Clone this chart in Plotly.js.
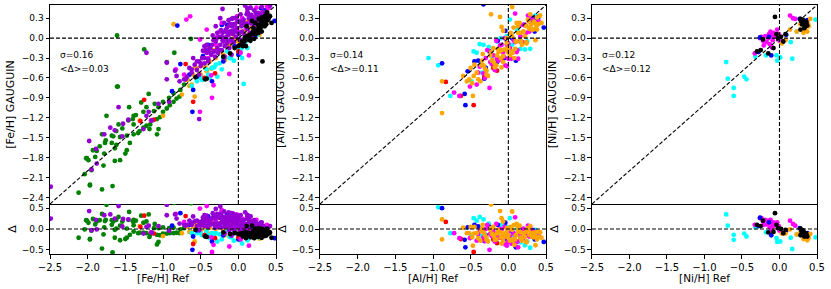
<!DOCTYPE html>
<html><head><meta charset="utf-8">
<script src="https://cdn.plot.ly/plotly-3.0.1.min.js"></script>
<style>html,body{margin:0;padding:0;background:#fff}#chart{width:831px;height:289px}</style>
</head><body><div id="chart"></div>
<script>
// ---------- [Fe/H] ----------
const fe_green_ref = [-1.61,-1.25,-1.61,-0.63,-0.85,-0.95,-1.60,-1.19,-1.29,-1.45,-1.75,-1.36,-1.40,-1.59,-1.66,-1.81,-1.77,-1.84,-1.88,-1.93,-2.01,-1.99,-1.79,-1.64,-1.57,-1.50,-1.48,-1.44,-1.64,-1.68,-1.62,-1.57,-1.48,-1.39,-1.33,-1.31,-1.26,-1.22,-1.17,-1.15,-1.08,-1.04,-1.00,-0.95,-0.91,-0.86,-0.82,-1.00,-1.11,-1.06,-1.22,-1.26,-1.39,-1.46,-1.54,-1.62,-1.68,-1.76,-1.78,-1.90,-2.04,-1.95,-1.97,-1.18,-1.08,-1.06,-1.39,-2.12,-1.97,-1.81,-1.67,-2.02,-0.77,-0.86,-0.72,-0.68,-0.78,-0.92,-1.12];
const fe_green_gau = [0.04,-0.17,-0.73,-0.01,-0.22,-0.36,-0.73,-0.84,-0.97,-1.04,-1.17,-1.16,-1.22,-1.30,-1.48,-1.45,-1.58,-1.63,-1.70,-1.69,-1.81,-1.84,-1.92,-1.85,-1.84,-1.74,-1.69,-1.58,-1.66,-1.58,-1.61,-1.49,-1.47,-1.45,-1.43,-1.40,-1.35,-1.32,-1.30,-1.24,-1.22,-1.19,-1.11,-1.06,-1.01,-0.96,-0.91,-0.96,-0.99,-1.04,-1.04,-1.11,-1.17,-1.24,-1.36,-1.40,-1.47,-1.54,-1.74,-1.79,-2.05,-1.99,-2.21,-1.37,-1.45,-1.37,-1.30,-2.33,-2.22,-2.28,-2.23,-1.81,-0.78,-0.83,-0.70,-0.62,-0.88,-0.90,-1.10];

const fe_purple_ref = [-1.98,-1.88,-1.95,-2.49,-1.78,-1.54,-1.64,-1.15,-1.59,-1.70,-1.89,-1.53,-1.46,-1.22,-1.19,-1.06,-0.95,-0.82,-0.84,-0.92,-1.26,-1.22,-0.95,-0.52,
  -0.21,-0.24,-0.30,-0.15,-0.11,-0.09,0.11,0.42,
  -0.68,-0.62,-0.58,-0.55,-0.52,-0.50,-0.48,-0.45,-0.42,-0.40,-0.38,-0.36,-0.35,-0.33,-0.31,-0.30,-0.28,-0.27,-0.25,-0.24,-0.22,-0.21,-0.20,-0.18,-0.17,-0.16,-0.15,-0.13,-0.12,-0.11,-0.10,-0.08,-0.07,-0.06,-0.05,-0.04,-0.03,-0.02,0.00,0.01,0.02,0.04,0.05,0.07,0.08,0.10,0.12,0.14,0.15,0.17,0.19,0.20,0.22,0.25,0.27,0.30,0.33,0.36,-0.45,-0.60,-0.65,-0.72,-0.78,-0.52,0.03,-0.09,-0.19,0.12,
  -0.45,-0.42,-0.40,-0.37,-0.34,-0.32,-0.29,-0.26,-0.23,-0.21,-0.19,-0.16,-0.14,-0.12,-0.09,-0.07,-0.04,-0.01,0.01,0.03,0.06,0.09,0.11,0.13,0.16,0.18,0.21,0.23,0.26,0.29,-0.43,-0.39,-0.33,-0.28,-0.22,-0.17,-0.13,-0.08,-0.03,0.02,0.07,0.12,0.17,0.24,0.31,-0.55,-0.50,-0.47,-0.62,-0.70];
const fe_purple_gau = [-1.55,-1.89,-1.98,-2.24,-1.45,-1.48,-1.39,-1.24,-1.04,-1.35,-1.67,-1.29,-1.23,-1.17,-1.11,-0.99,-0.62,-0.57,-0.49,-0.96,-1.37,-0.22,-0.37,-1.22,
  0.44,0.30,0.18,0.16,0.21,0.29,0.36,0.49,
  -0.58,-0.52,-0.40,-0.48,-0.35,-0.42,-0.30,-0.38,-0.22,-0.32,-0.15,-0.25,-0.10,-0.20,-0.28,-0.05,-0.15,-0.22,0.02,-0.10,-0.18,0.08,-0.05,-0.12,0.12,0.02,-0.08,0.05,-0.15,0.10,-0.02,0.18,0.06,-0.06,0.12,0.22,0.02,0.15,0.08,0.25,-0.02,0.18,0.10,0.28,0.05,0.20,0.14,0.30,0.08,0.22,0.32,0.16,0.27,0.35,0.22,0.33,0.40,0.30,-0.12,-0.30,-0.45,-0.62,-0.65,-0.55,-0.10,-0.25,-0.30,0.45,
  -0.30,-0.10,-0.35,-0.15,0.04,-0.20,-0.01,-0.18,0.12,-0.03,0.23,0.09,-0.04,0.19,0.11,0.30,0.10,0.26,0.07,0.36,0.25,0.49,0.22,0.37,0.46,0.27,0.42,0.38,0.38,0.36,-0.17,-0.21,-0.03,0.08,0.02,-0.01,0.27,0.21,0.30,0.24,0.20,0.40,0.35,0.29,0.47,-0.35,-0.38,-0.19,-0.47,-0.62];

const fe_magenta_ref = [-0.69,-0.64,-0.12,0.16,0.24,-0.30,-0.20,-0.15,-0.05,0.00,0.05,0.10,0.15,0.20,0.25,0.30,0.35,0.40,-0.25,-0.40,-0.45,0.08,-0.10,0.18,0.28,-0.35,-1.16,-0.83,-0.72,-0.51,-0.51,
  -0.42,-0.36,-0.28,-0.22,-0.18,-0.08,-0.02,0.03,0.12,0.22,0.32,0.38,-0.33,0.14];
const fe_magenta_gau = [0.28,0.33,-0.54,0.46,0.46,-0.10,0.00,0.10,0.20,0.10,0.30,0.15,0.25,0.30,0.20,0.38,0.30,0.45,0.10,-0.30,-0.20,-0.05,-0.05,0.05,0.10,-0.90,-1.24,-0.47,-0.55,-1.11,-0.02,
  0.13,-0.56,0.02,0.23,-0.28,-0.03,0.33,-0.22,0.45,0.32,0.27,0.48,-0.71,-0.26];

const fe_orange_ref = [-0.86,-1.31,-1.00,-0.58,-0.60,-0.55,-0.50,-0.45,-0.42,-0.38,-0.30,-0.25,-0.20,-0.15,-0.10,-0.05,0.00,0.05,0.10,0.15,0.20,0.25,0.30,0.35,0.38,0.12,-0.02,0.22,-0.35,-0.48,-0.70,-0.65,-0.75,0.28,-0.12,
  -0.68,-0.62,-0.57,-0.52,-0.44,-0.36,-0.27,-0.18,-0.08,0.02,0.08,0.18,0.27,0.33,-0.33];
const fe_orange_gau = [0.21,-1.24,-1.17,-0.88,-0.55,-0.45,-0.55,-0.40,-0.50,-0.35,-0.30,-0.20,-0.25,-0.12,-0.10,0.00,-0.05,0.10,0.05,0.15,0.10,0.20,0.25,0.20,0.35,0.25,0.15,0.28,-0.45,-0.30,-0.62,-0.72,-0.85,0.05,0.05,
  -0.63,-0.70,-0.45,-0.54,-0.44,-0.46,-0.19,-0.33,-0.03,-0.10,0.10,0.00,0.22,0.19,-0.18];

const fe_cyan_ref = [0.07,-0.45,-0.40,-0.50,-0.35,-0.30,-0.20,-0.10,0.00,0.02,0.10,0.12,0.20,-0.15,-0.55,-0.25,0.25,0.05,-0.62,0.30,
  -0.48,-0.38,-0.32,-0.22,-0.12,-0.06,0.04,0.15,-0.42,-0.28,0.08];
const fe_cyan_gau = [-0.69,-0.60,-0.55,-0.60,-0.45,-0.40,-0.30,-0.30,-0.15,-0.25,-0.05,-0.15,0.00,-0.20,-0.65,-0.38,0.05,-0.30,-0.72,0.15,
  -0.63,-0.60,-0.44,-0.47,-0.30,-0.34,-0.16,0.05,-0.47,-0.58,-0.07];

const fe_blue_ref = [-0.81,0.48,-0.61,-0.77,0.30,0.35,0.25,-0.20,-0.40,-0.60,0.10,0.05,-0.10,0.40,0.20,-0.55,-0.88,0.15,-0.22,-0.05,
  -0.47,-0.35,-0.15,0.22,0.33,-0.65,0.00];
const fe_blue_gau = [0.19,0.26,-1.11,-0.39,0.45,0.42,0.35,-0.35,-0.10,-0.78,0.20,-0.10,0.20,0.30,0.22,-0.58,-0.80,0.00,0.20,-0.12,
  -0.27,-0.65,0.20,0.02,0.38,-0.55,-0.25];

const fe_red_ref = [-0.70,-0.31,-1.25,-1.12,-0.60,-0.45,0.00,-1.30];
const fe_red_gau = [-0.39,-0.53,-0.93,-1.23,-0.96,-0.60,-0.20,-1.25];

const fe_black_ref = [0.32,0.05,0.10,0.15,0.20,0.25,0.30,0.35,0.22,0.28,0.32,0.38,0.12,0.18,0.27,0.33,0.40,0.00,-0.05,0.08,0.24,0.30,0.36,0.20,0.15,0.42,-0.20,-0.42,-0.44,-0.11,-0.57,0.11,0.18,0.22,0.27,0.31,0.36,0.38,0.44,0.34,0.26,0.29,0.35,
  0.02,0.06,0.09,0.13,0.16,0.19,0.23,0.26,0.29,0.31,0.34,0.37,0.39,0.41,0.21,0.27,0.33,0.36,0.10,0.25];
const fe_black_gau = [-0.35,-0.05,0.00,0.05,0.08,0.13,0.18,0.25,0.12,0.20,0.22,0.28,0.03,0.06,0.15,0.20,0.30,-0.12,-0.15,-0.05,0.10,0.26,0.30,0.15,0.02,0.33,-0.28,-0.61,-0.62,-0.23,-0.59,0.18,0.26,0.23,0.29,0.31,0.34,0.39,0.23,0.32,0.08,0.12,0.18,
  -0.10,-0.12,0.01,-0.02,-0.04,0.09,0.06,0.20,0.15,0.10,0.25,0.21,0.27,0.34,-0.01,0.08,0.22,0.32,-0.12,0.12];

// ---------- [Al/H] ----------
const al_orange_ref = [0.05,-0.23,-0.11,-0.88,-0.47,-0.88,-0.09,-0.07,0.07,0.11,0.29,0.38,0.42,0.24,0.16,0.05,-0.02,-0.09,-0.15,-0.22,-0.33,-0.42,-0.46,-0.55,-0.37,-0.29,-0.18,-0.07,0.02,0.09,0.16,0.22,0.33,0.40,0.36,0.18,-0.13,-0.24,-0.35,-0.02,0.13,0.44,0.24,-0.60,-0.50,0.00,0.10,0.20,0.30,-0.20,-0.10,0.05,0.26,0.34,
  -0.52,-0.45,-0.40,-0.36,-0.31,-0.27,-0.23,-0.19,-0.16,-0.12,-0.09,-0.05,-0.01,0.03,0.06,0.10,0.13,0.17,0.20,0.24,0.27,0.31,0.35,0.38,0.42,-0.48,-0.34,-0.21,-0.07,0.08,0.15,0.28,0.37,-0.29,-0.14];
const al_orange_gau = [0.47,0.36,0.32,-0.65,-0.87,-1.13,0.17,0.11,0.16,0.23,0.36,0.31,0.34,0.18,0.08,0.03,-0.08,-0.18,-0.26,-0.34,-0.41,-0.52,-0.57,-0.65,-0.65,-0.49,-0.44,-0.36,-0.26,-0.16,-0.05,0.03,0.13,0.21,-0.03,-0.10,-0.21,-0.26,-0.34,0.00,0.18,0.23,-0.08,-0.57,-0.45,-0.15,-0.05,0.10,0.20,-0.15,-0.30,-0.20,0.28,0.25,
  -0.62,-0.40,-0.62,-0.41,-0.46,-0.57,-0.21,-0.37,-0.41,-0.20,-0.44,-0.17,-0.21,0.08,-0.22,-0.05,0.08,-0.05,0.10,-0.06,0.25,0.13,0.23,0.13,0.34,-0.68,-0.24,-0.33,-0.27,-0.30,0.23,0.14,0.17,-0.55,-0.16];

const al_magenta_ref = [0.09,0.29,-0.02,-0.07,-0.15,-0.22,-0.25,-0.31,-0.40,0.13,0.11,0.02,-0.09,-0.20,-0.13,-0.04,-0.51,-0.65,0.40,0.16,0.24,0.07,0.00,0.32,-0.05,0.20,-0.30,-0.72,
  -0.38,-0.33,-0.28,-0.24,-0.18,-0.11,-0.06,0.00,0.04,0.09,0.14,0.19,0.22,0.28,0.34,-0.16,-0.02,0.12,0.26,-0.42];
const al_magenta_gau = [0.37,0.34,-0.10,-0.21,-0.31,-0.39,-0.75,-0.60,-0.52,-0.31,-0.21,-0.15,-0.10,-0.26,-0.34,-0.41,-0.73,-0.87,0.26,0.03,0.08,-0.03,-0.31,0.28,0.00,0.20,-0.30,-0.82,
  -0.43,-0.53,-0.18,-0.36,-0.48,-0.11,-0.28,-0.08,-0.31,-0.06,0.19,-0.06,0.20,0.10,0.24,-0.04,-0.42,-0.18,0.34,-0.70];

const al_cyan_ref = [-1.06,-0.93,-0.77,-0.38,-0.33,-0.26,-0.46,-0.49,0.16,0.22,0.29,-0.31,-0.35,-0.02,0.36,-0.15,0.02,
  -0.22,-0.10,0.05,0.25,0.33,-0.42,0.12];
const al_cyan_gau = [-0.30,-0.41,-0.87,-0.09,-0.10,-0.13,-0.20,-0.65,-0.16,-0.17,-0.16,-0.44,-0.52,0.03,0.34,-0.05,0.28,
  -0.27,0.00,-0.10,-0.05,0.13,-0.22,0.12];

const al_blue_ref = [-0.88,-0.58,-0.57,-0.33,-0.04,-0.14,0.29,0.33,0.40,-0.54,-0.40,-0.32,-0.15,0.16,0.10,0.47,0.05,-0.25,0.35,
  -0.30,-0.05,0.20,0.38,-0.45];
const al_blue_gau = [-0.38,-0.84,-1.01,0.51,0.11,-0.04,0.27,0.30,0.32,-0.50,-0.34,-0.61,-0.36,-0.05,-0.34,0.16,0.00,-0.20,0.10,
  -0.45,-0.30,0.20,0.28,-0.35];

const al_red_ref = [-0.83,-0.63,-0.46,-0.15,-0.32,-0.20,-0.08];
const al_red_gau = [-0.66,-0.87,-1.01,-0.49,-0.58,-0.45,-0.30];

// ---------- [Ni/H] ----------
const ni_cyan_ref = [-0.71,-0.69,-0.61,-0.61,-0.47,-0.44,-0.32,-0.04,-0.03,0.01,0.17,0.15,0.23,0.48,-0.18];
const ni_cyan_gau = [-0.36,-0.61,-0.75,-0.87,-0.58,-0.62,-0.28,-0.26,-0.34,-0.29,-0.31,-0.06,0.10,0.28,-0.26];

const ni_magenta_ref = [0.14,0.18,-0.03,-0.01,-0.12,-0.26,-0.22,-0.19,-0.17,-0.15,-0.11,-0.09,-0.06,-0.21,-0.33,0.00,0.21,-0.13,-0.10,-0.24,-0.08,-0.14];
const ni_magenta_gau = [0.34,0.30,0.13,0.06,0.10,0.00,-0.04,0.03,-0.06,0.00,0.04,-0.03,0.03,-0.11,-0.23,-0.04,0.29,-0.09,-0.14,0.02,0.08,0.06];

const ni_blue_ref = [-0.14,-0.26,-0.28,-0.11,0.05,0.09,0.27,0.37];
const ni_blue_gau = [0.02,0.01,-0.21,-0.26,-0.05,0.05,0.29,0.27];

const ni_orange_ref = [0.14,0.03,0.08,0.23,0.37,0.39,0.41,0.28,0.32,0.35,0.38,0.33];
const ni_orange_gau = [0.13,-0.08,-0.03,0.10,0.10,0.18,0.29,0.21,0.08,0.12,0.22,0.14];

const ni_black_ref = [-0.06,-0.30,-0.25,-0.22,-0.15,-0.08,-0.04,-0.02,0.02,0.05,0.08,0.28,0.32,0.34,0.28,0.36,0.30,0.33,0.35,0.31,0.29,0.37];
const ni_black_gau = [0.32,-0.20,-0.18,-0.02,-0.23,-0.15,0.06,0.00,0.02,-0.05,0.06,0.29,0.26,0.18,0.13,0.23,0.21,0.15,0.25,0.28,0.25,0.19];

// ---------- labels / stats ----------
const panel_elements = ['Fe','Al','Ni'];
const panel_sigma = ['0.16','0.14','0.12'];
const panel_mean_delta = ['0.03','0.11','0.12'];
const main_ytick_vals = [-2.4,-2.1,-1.8,-1.5,-1.2,-0.9,-0.6,-0.3,0.0,0.3];
const resid_ytick_vals = [-0.5,0.0,0.5];
const x_tick_vals = [-2.5,-2.0,-1.5,-1.0,-0.5,0.0,0.5];

// ---------- styles ----------
const COLORS = {green:'#008000', orange:'#FFA500', cyan:'#00FFFF', blue:'#0000FF', red:'#FF0000', purple:'#9400D3', magenta:'#FF00FF', black:'#000000'};

const panels = [
  [['green',fe_green_ref,fe_green_gau],['orange',fe_orange_ref,fe_orange_gau],['cyan',fe_cyan_ref,fe_cyan_gau],['blue',fe_blue_ref,fe_blue_gau],['red',fe_red_ref,fe_red_gau],['magenta',fe_magenta_ref,fe_magenta_gau],['purple',fe_purple_ref,fe_purple_gau],['black',fe_black_ref,fe_black_gau]],
  [['cyan',al_cyan_ref,al_cyan_gau],['blue',al_blue_ref,al_blue_gau],['red',al_red_ref,al_red_gau],['magenta',al_magenta_ref,al_magenta_gau],['orange',al_orange_ref,al_orange_gau]],
  [['cyan',ni_cyan_ref,ni_cyan_gau],['magenta',ni_magenta_ref,ni_magenta_gau],['blue',ni_blue_ref,ni_blue_gau],['orange',ni_orange_ref,ni_orange_gau],['black',ni_black_ref,ni_black_gau]]
];

const xdomains = [[0,0.2947],[0.3520,0.6467],[0.7066,1.0]];
const mainDom = [0.2008,1];
const resDom = [0,0.2008];
const FONT = 'DejaVu Sans, Arial, sans-serif';

const traces = [];
const shapes = [];
const annotations = [];
const layout = {
  width:831, height:289,
  margin:{l:50,r:14,t:5,b:35,pad:0},
  paper_bgcolor:'#fff', plot_bgcolor:'#fff',
  showlegend:false,
  font:{family:FONT, color:'#000', size:10},
  shapes:shapes, annotations:annotations
};

const dash = '4px,2px';
function axBase(){
  return {showline:true, mirror:true, linecolor:'#000', linewidth:1, showgrid:false, zeroline:false,
          ticks:'outside', ticklen:3.5, tickwidth:1, tickcolor:'#000'};
}

panels.forEach((groups,p)=>{
  const mi = 2*p+1, ri = 2*p+2;
  const mx = 'x'+(mi===1?'':mi), my = 'y'+(mi===1?'':mi);
  const rx = 'x'+ri, ry = 'y'+ri;
  groups.forEach(([c,ref,gau])=>{
    traces.push({type:'scatter', mode:'markers', x:ref, y:gau, xaxis:mx, yaxis:my,
      marker:{color:COLORS[c], size:4.8, line:{width:0}}, hoverinfo:'skip'});
    traces.push({type:'scatter', mode:'markers', x:ref, y:gau.map((g,i)=>g-ref[i]), xaxis:rx, yaxis:ry,
      marker:{color:COLORS[c], size:4.8, line:{width:0}}, hoverinfo:'skip'});
  });
  const el = panel_elements[p];
  layout['xaxis'+(mi===1?'':mi)] = Object.assign(axBase(), {domain:xdomains[p], anchor:my, range:[-2.5,0.5],
      tickvals:x_tick_vals, showticklabels:false, ticks:''});
  layout['yaxis'+(mi===1?'':mi)] = Object.assign(axBase(), {domain:mainDom, anchor:mx, range:[-2.5,0.5],
      tickvals:main_ytick_vals, tickformat:'.1f', tickfont:{size:9},
      title:{text:'['+el+'/H] GAUGUIN', font:{size:11}, standoff:4}});
  layout['xaxis'+ri] = Object.assign(axBase(), {domain:xdomains[p], anchor:ry, range:[-2.5,0.5], mirror:false,
      tickvals:x_tick_vals, tickformat:'.1f', tickfont:{size:10},
      title:{text:'['+el+'/H] Ref', font:{size:10.5}, standoff:2}});
  layout['yaxis'+ri] = Object.assign(axBase(), {domain:resDom, anchor:rx, range:[-0.6,0.6],
      tickvals:resid_ytick_vals, tickformat:'.1f', tickfont:{size:9},
      title:{text:'Δ', font:{size:11}, standoff:2}});
  const ln = {color:'#000', width:1.1, dash:dash};
  shapes.push({type:'line', xref:mx, yref:my, x0:-2.5, y0:-2.5, x1:0.5, y1:0.5, line:ln, layer:'above'});
  shapes.push({type:'line', xref:mx, yref:my, x0:-2.5, y0:0, x1:0.5, y1:0, line:ln, layer:'above'});
  shapes.push({type:'line', xref:mx, yref:my, x0:0, y0:-2.5, x1:0, y1:0.5, line:ln, layer:'above'});
  shapes.push({type:'line', xref:rx, yref:ry, x0:-2.5, y0:0, x1:0.5, y1:0, line:ln, layer:'above'});
  annotations.push({xref:mx+' domain', yref:my+' domain', x:0.035, y:0.749, xanchor:'left', yanchor:'middle',
      text:'σ='+panel_sigma[p], showarrow:false, font:{size:9}});
  annotations.push({xref:mx+' domain', yref:my+' domain', x:0.035, y:0.679, xanchor:'left', yanchor:'middle',
      text:'&lt;Δ&gt;='+panel_mean_delta[p], showarrow:false, font:{size:9}});
});

Plotly.newPlot('chart', traces, layout, {staticPlot:true, displayModeBar:false});
</script></body></html>
